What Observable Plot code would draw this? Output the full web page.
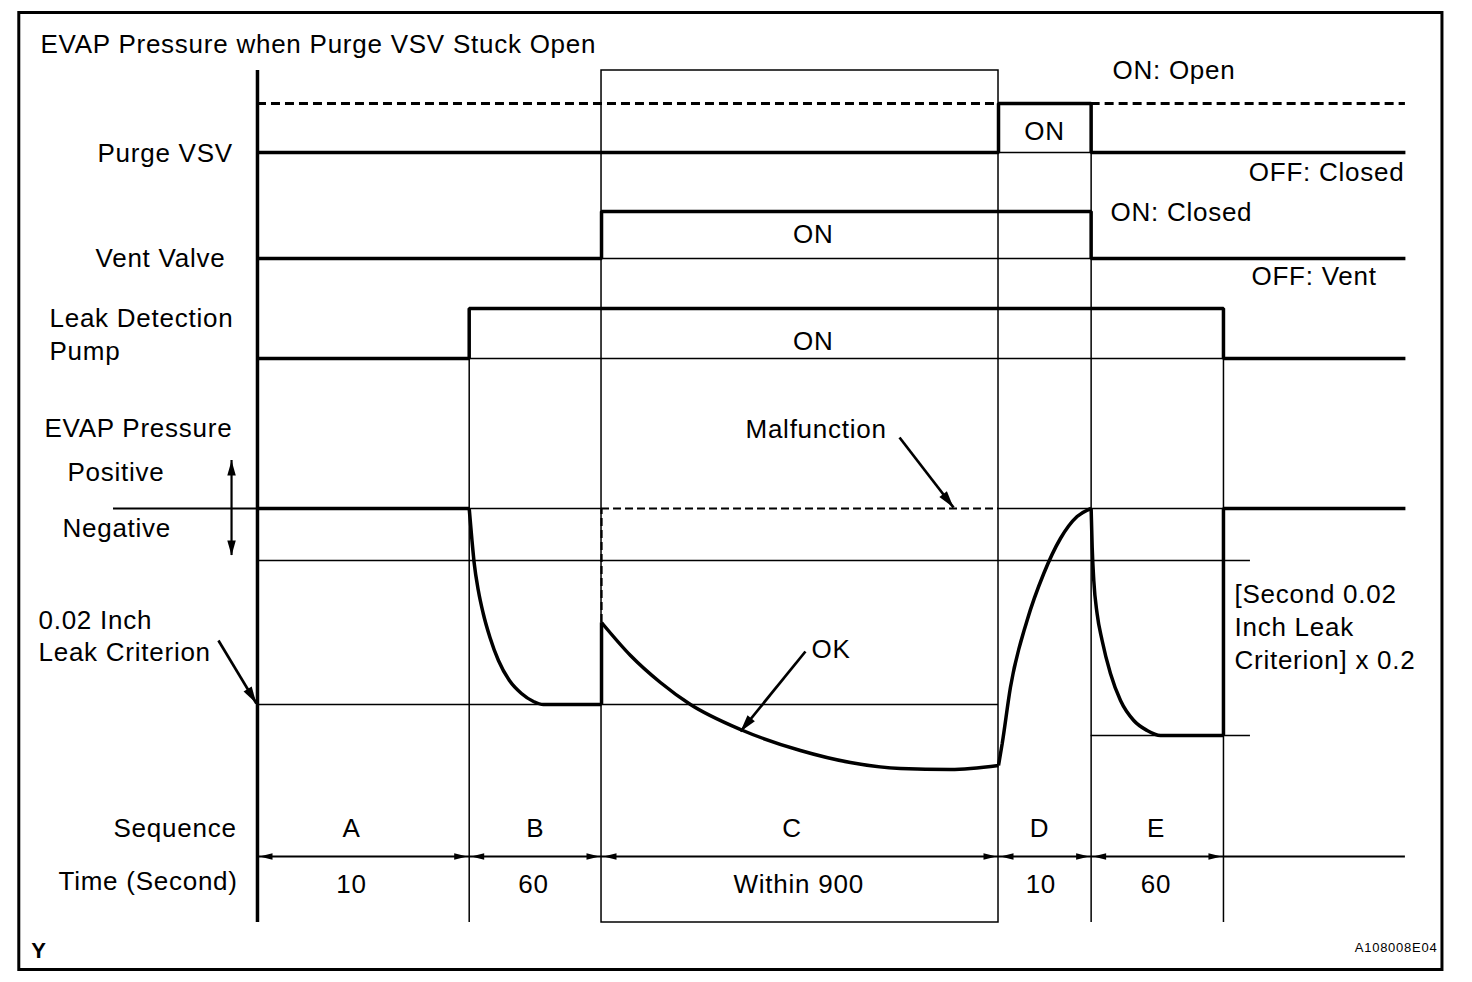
<!DOCTYPE html>
<html><head><meta charset="utf-8">
<script src="https://cdn.jsdelivr.net/npm/d3@7"></script>
<script src="https://cdn.jsdelivr.net/npm/@observablehq/plot@0.6"></script>
<style>html,body{margin:0;padding:0;background:#fff;} #chart svg{display:block;}</style>
</head><body><div id="chart"></div>
<script>
// ================= DATA =================
const phases = ["A", "B", "C", "D", "E"];
const phaseTimes = ["10", "60", "Within 900", "10", "60"];
const phaseSpan = [16, 10, 30, 7, 10];          // schematic width of each sequence step
const tailSpan = 13.75;                         // trace continues after step E
const signalNames = ["Purge VSV", "Vent Valve", "Leak Detection", "Pump"];
const purgeState = [0, 0, 0, 1, 0];             // state during A..E (0 = OFF, 1 = ON)
const ventState  = [0, 0, 1, 1, 0];
const pumpState  = [0, 1, 1, 1, 1];
// EVAP pressure (schematic level, 0 = atmospheric, negative = vacuum)
const pressureA = [[0, 0], [16, 0]];
const pressureB = [[16, 0], [16.21, -3.2], [16.38, -5.5], [16.69, -8.2], [17.06, -10.5], [17.57, -12.9],
  [18.21, -15.2], [19.04, -17.2], [19.95, -18.5], [20.86, -19.3], [21.61, -19.6], [26, -19.6]];
const pressureJumpC = [[26, -19.6], [26, -11.4]];
const pressureC = [[26, -11.4], [28.19, -14.7], [30.45, -17.4], [32.72, -19.6], [36.5, -22.1], [41.03, -24.2],
  [44.81, -25.4], [48.59, -26.0], [52.37, -26.1], [56, -25.7]];
const pressureD = [[56, -25.7], [56.28, -23.5], [56.9, -17.9], [58.16, -11.2], [59.42, -6.5], [60.68, -3.0],
  [61.94, -0.8], [63, 0]];
const pressureE = [[63, 0], [63.08, -3.9], [63.2, -7.2], [63.45, -10.5], [63.83, -13.2], [64.46, -16.5],
  [65.22, -19.2], [66.22, -21.2], [67.23, -22.2], [68.24, -22.7], [73, -22.7]];
const pressureEnd = [[73, -22.7], [73, 0], [86.75, 0]];
const malfunctionLevel = 0;
const leakCriterion = -19.6;
const secondCriterion = -22.7;
const guideLevel = -5.2;

// ================= LAYOUT =================
const W = 1472, H = 982;
const xDomain = [-19.42, 91.82], yDomain = [50.8, -47.4];
const sx = Plot.scale({x: {domain: xDomain, range: [0, W]}});
const sy = Plot.scale({y: {domain: yDomain, range: [0, H]}});
const bounds = d3.cumsum([0, ...phaseSpan]);
const tStart = bounds[0], tLast = bounds[bounds.length - 1], tEnd = tLast + tailSpan;
const rows = {purge: {base: 35.6, swing: 4.9}, vent: {base: 25.0, swing: 4.7}, pump: {base: 15.0, swing: 5.0}};
const topY = 43.8, bottomY = -41.4, seqY = -34.8;
const THICK = 3.5, THIN = 1.5;
const FS = 26;

function trace(states, row) {
  const pts = states.map((s, i) => ({t: bounds[i], y: row.base + s * row.swing}));
  pts.push({t: tLast, y: row.base}, {t: tEnd, y: row.base});
  return pts;
}
function runs(states, value) { // segments of phases with given state
  const out = [];
  states.forEach((s, i) => {
    if (s !== value) return;
    const last = out[out.length - 1];
    if (last && last.x2 === bounds[i]) last.x2 = bounds[i + 1];
    else out.push({x1: bounds[i], x2: bounds[i + 1]});
  });
  return out;
}
const purgeTrace = trace(purgeState, rows.purge);
const ventTrace = trace(ventState, rows.vent);
const pumpTrace = trace(pumpState, rows.pump);

// dashed "ON: Open" reference where purge is off
const purgeOff = runs(purgeState, 0);
purgeOff[purgeOff.length - 1].x2 = tEnd;
const dashedPurge = purgeOff.map(d => ({...d, y: rows.purge.base + rows.purge.swing}));
// thin OFF reference under ON pulses
const thinLows = [
  ...runs(purgeState, 1).map(d => ({...d, y: rows.purge.base})),
  ...runs(ventState, 1).map(d => ({...d, y: rows.vent.base})),
  ...runs(pumpState, 1).map(d => ({...d, y: rows.pump.base}))
];
const thinH = [
  ...thinLows,
  {x1: bounds[1], x2: bounds[2], y: 0},
  {x1: bounds[3], x2: bounds[5], y: 0},
  {x1: tStart, x2: 75.04, y: guideLevel},
  {x1: tStart, x2: bounds[3], y: leakCriterion},
  {x1: bounds[4], x2: 75.04, y: secondCriterion},
];
const thinV = [
  {t: bounds[1], y1: rows.pump.base + rows.pump.swing, y2: bottomY},
  {t: bounds[4], y1: rows.purge.base + rows.purge.swing, y2: bottomY},
  {t: bounds[5], y1: rows.pump.base + rows.pump.swing, y2: bottomY},
];

// arrowhead symbols (tip at origin, pointing +x)
const mkHead = (L, Wd) => ({draw(ctx) { ctx.moveTo(0, 0); ctx.lineTo(-L, -Wd / 2); ctx.lineTo(-L, Wd / 2); ctx.closePath(); }});
const headSeq = mkHead(13, 6.5), headBig = mkHead(17, 9.5), headPM = mkHead(15, 8.5);
const inset = 2 * (xDomain[1] - xDomain[0]) / W;
const seqHeads = [];
phases.forEach((p, i) => {
  seqHeads.push({t: bounds[i] + inset, y: seqY, a: 180});
  seqHeads.push({t: bounds[i + 1] - inset, y: seqY, a: 0});
});
const angle = (a, b) => Math.atan2(sy.apply(b[1]) - sy.apply(a[1]), sx.apply(b[0]) - sx.apply(a[0])) * 180 / Math.PI;
const diagArrows = [
  {from: [48.52, 7.1], to: [52.60, 0.1]},    // Malfunction
  {from: [41.41, -14.3], to: [36.50, -22.3]}, // OK
  {from: [-2.95, -13.2], to: [-0.08, -19.5]}  // leak criterion
].map(d => ({x1: d.from[0], y1: d.from[1], x2: d.to[0], y2: d.to[1], a: angle(d.from, d.to)}));
const pmArrow = {t: -1.96, top: 4.8, bot: -4.7};

// text annotations
const leftLabels = [
  {text: signalNames[0], t: -12.09, y: 35.5},
  {text: signalNames[1], t: -12.24, y: 25.0},
  {text: signalNames[2], t: -15.72, y: 19.0},
  {text: signalNames[3], t: -15.72, y: 15.7},
  {text: "EVAP Pressure", t: -16.10, y: 8.0},
  {text: "Positive", t: -14.36, y: 3.6},
  {text: "Negative", t: -14.74, y: -2.0},
  {text: "0.02 Inch", t: -16.55, y: -11.2},
  {text: "Leak Criterion", t: -16.55, y: -14.4},
  {text: "Sequence", t: -10.88, y: -32.0},
  {text: "Time (Second)", t: -15.04, y: -37.3},
  {text: "EVAP Pressure when Purge VSV Stuck Open", t: -16.40, y: 46.4},
  {text: "ON: Open", t: 64.61, y: 43.8},
  {text: "ON: Closed", t: 64.46, y: 29.6},
  {text: "OFF: Vent", t: 75.12, y: 23.2},
  {text: "[Second 0.02", t: 73.83, y: -8.6},
  {text: "Inch Leak", t: 73.83, y: -11.9},
  {text: "Criterion] x 0.2", t: 73.83, y: -15.2},
  {text: "Malfunction", t: 36.88, y: 7.9},
  {text: "OK", t: 41.87, y: -14.1},
];
const endLabels = [{text: "OFF: Closed", t: 86.68, y: 33.6}];
const letterShift = [-0.9, 0, -0.6, -0.4, -0.1];
const timeShift = [-0.9, -0.15, -0.1, -0.3, -0.1];
const center = i => (bounds[i] + bounds[i + 1]) / 2;
const midLabels = [
  {text: "ON", t: 59.47, y: 37.7},
  {text: "ON", t: 42.0, y: 27.4},
  {text: "ON", t: 42.0, y: 16.7},
  ...phases.map((p, i) => ({text: p, t: center(i) + letterShift[i], y: -32.0})),
  ...phaseTimes.map((p, i) => ({text: p, t: center(i) + timeShift[i], y: -37.6})),
];

const lineOpts = {strokeLinejoin: "miter", strokeLinecap: "butt"};
const P = (arr, curve, w = THICK) => Plot.line(arr, {x: d => d[0], y: d => d[1], curve, strokeWidth: w, stroke: "black", ...lineOpts});

const chart = Plot.plot({
  width: W, height: H, margin: 0,
  x: {domain: xDomain, range: [0, W], axis: null},
  y: {domain: yDomain, range: [0, H], axis: null},
  style: {fontFamily: "'Liberation Sans', Arial, sans-serif", letterSpacing: "0.75px", background: "white", color: "black"},
  marks: [
    // outer frame and step C box
    Plot.rect([{x1: -18.0, x2: 89.55, y1: 49.55, y2: -46.15}], {x1: "x1", x2: "x2", y1: "y1", y2: "y2", fill: "none", stroke: "black", strokeWidth: 3}),
    Plot.rect([{x1: bounds[2], x2: bounds[3], y1: topY, y2: bottomY}], {x1: "x1", x2: "x2", y1: "y1", y2: "y2", fill: "none", stroke: "black", strokeWidth: THIN}),
    // thin guide lines
    Plot.ruleY(thinH, {y: "y", x1: "x1", x2: "x2", stroke: "black", strokeWidth: THIN}),
    Plot.ruleX(thinV, {x: "t", y1: "y1", y2: "y2", stroke: "black", strokeWidth: THIN}),
    Plot.ruleY([{x1: -10.88, x2: tStart, y: 0}], {y: "y", x1: "x1", x2: "x2", stroke: "black", strokeWidth: 2.2}),
    // dashed references
    Plot.ruleY(dashedPurge, {y: "y", x1: "x1", x2: "x2", stroke: "black", strokeWidth: 2.8, strokeDasharray: "9,5"}),
    Plot.ruleY([{x1: bounds[2], x2: bounds[3], y: malfunctionLevel}], {y: "y", x1: "x1", x2: "x2", stroke: "black", strokeWidth: 2.2, strokeDasharray: "8,4"}),
    Plot.ruleX([{t: bounds[2], y1: -11.4, y2: 0}], {x: "t", y1: "y1", y2: "y2", stroke: "black", strokeWidth: 2.2, strokeDasharray: "8,4"}),
    // left time axis
    Plot.ruleX([{t: tStart, y1: topY, y2: bottomY}], {x: "t", y1: "y1", y2: "y2", stroke: "black", strokeWidth: THICK}),
    // digital traces
    Plot.line(purgeTrace, {x: "t", y: "y", curve: "step-after", stroke: "black", strokeWidth: THICK, ...lineOpts}),
    Plot.line(ventTrace, {x: "t", y: "y", curve: "step-after", stroke: "black", strokeWidth: THICK, ...lineOpts}),
    Plot.line(pumpTrace, {x: "t", y: "y", curve: "step-after", stroke: "black", strokeWidth: THICK, ...lineOpts}),
    // pressure
    P(pressureA, "linear"),
    P(pressureB, "monotone-x"),
    P(pressureJumpC, "linear"),
    P(pressureC, "monotone-x"),
    P(pressureD, "monotone-x"),
    P(pressureE, "monotone-x"),
    P(pressureEnd, "linear"),
    // sequence dimension line
    Plot.ruleY([{x1: tStart, x2: tEnd, y: seqY}], {y: "y", x1: "x1", x2: "x2", stroke: "black", strokeWidth: 1.8}),
    Plot.dot(seqHeads, {x: "t", y: "y", rotate: "a", symbol: headSeq, r: 3, fill: "black", stroke: "none"}),
    // annotation arrows
    Plot.link(diagArrows, {x1: "x1", y1: "y1", x2: "x2", y2: "y2", stroke: "black", strokeWidth: 2.7}),
    Plot.dot(diagArrows, {x: "x2", y: "y2", rotate: "a", symbol: headBig, r: 3, fill: "black", stroke: "none"}),
    Plot.ruleX([pmArrow], {x: "t", y1: "top", y2: "bot", stroke: "black", strokeWidth: 2.2}),
    Plot.dot([{t: pmArrow.t, y: pmArrow.top, a: -90}, {t: pmArrow.t, y: pmArrow.bot, a: 90}], {x: "t", y: "y", rotate: "a", symbol: headPM, r: 3, fill: "black", stroke: "none"}),
    // text
    Plot.text(leftLabels, {x: "t", y: "y", text: "text", textAnchor: "start", lineAnchor: "middle", fontSize: FS, fill: "black"}),
    Plot.text(endLabels, {x: "t", y: "y", text: "text", textAnchor: "end", lineAnchor: "middle", fontSize: FS, fill: "black"}),
    Plot.text(midLabels, {x: "t", y: "y", text: "text", textAnchor: "middle", lineAnchor: "middle", fontSize: FS, fill: "black"}),
    Plot.text([{text: "Y", t: -17.1, y: -44.2}], {x: "t", y: "y", text: "text", textAnchor: "start", lineAnchor: "middle", fontSize: 22, fontWeight: "bold", fill: "black"}),
    Plot.text([{text: "A108008E04", t: 89.17, y: -43.9}], {x: "t", y: "y", text: "text", textAnchor: "end", lineAnchor: "middle", fontSize: 13, fill: "black"}),
  ]
});
document.getElementById("chart").appendChild(chart);
</script>
</body></html>
